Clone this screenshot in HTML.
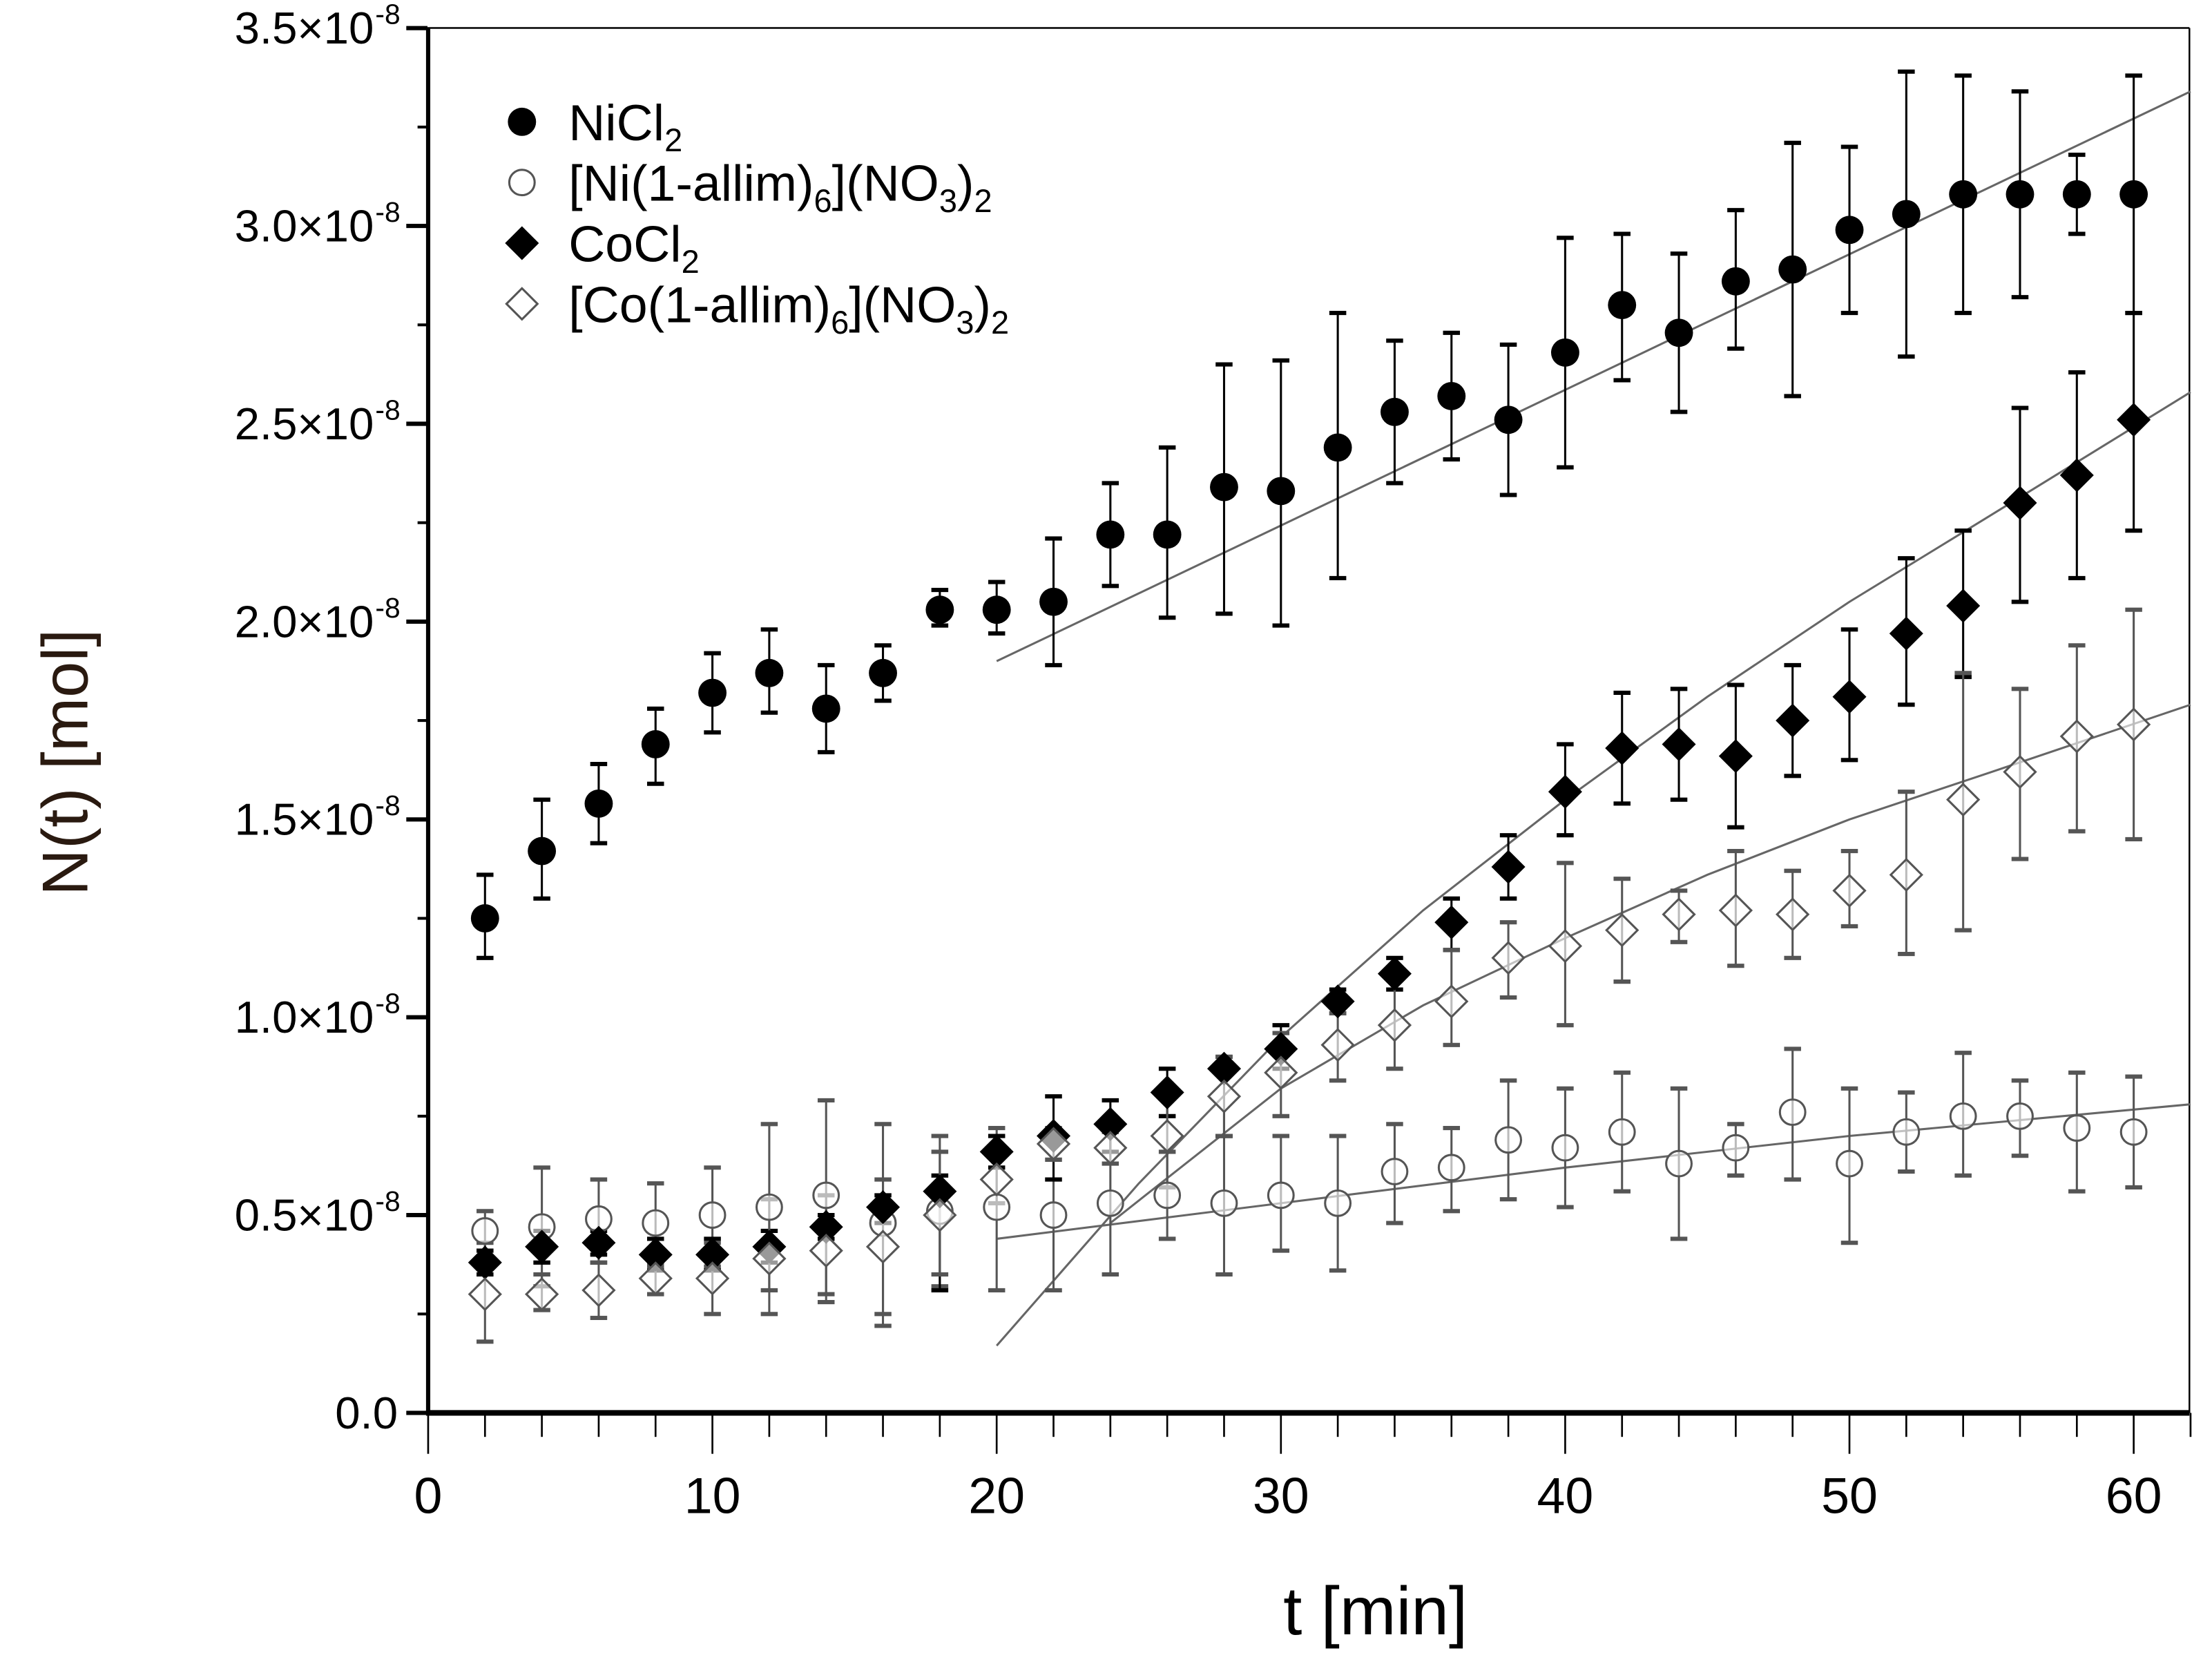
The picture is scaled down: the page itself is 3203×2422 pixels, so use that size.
<!DOCTYPE html>
<html><head><meta charset="utf-8"><style>
html,body{margin:0;padding:0;background:#fff;}
svg{display:block;font-family:"Liberation Sans",Arial,sans-serif;}
</style></head><body>
<svg id="chart" width="3203" height="2422" viewBox="0 0 1568 1185" xmlns="http://www.w3.org/2000/svg">
<g id="frame">
<line x1="303" y1="19.5" x2="1552" y2="19.5" stroke="#000" stroke-width="1.2"/>
<line x1="1552" y1="19.5" x2="1552" y2="1001" stroke="#000" stroke-width="1.2"/>
<line x1="303.5" y1="19.5" x2="303.5" y2="1002" stroke="#000" stroke-width="3"/>
<line x1="302" y1="1001" x2="1552" y2="1001" stroke="#000" stroke-width="4"/>
</g>
<g id="axes"></g>
<g id="fits"></g>
<g id="errs"></g>
<g id="marks"></g>
<g id="legend" font-size="36">
<circle cx="370" cy="86" r="10" fill="#000"/>
<text x="403" y="99">NiCl<tspan font-size="23" dy="8">2</tspan></text>
<circle cx="370" cy="129" r="9" fill="#fff" stroke="#555" stroke-width="1.5"/>
<text x="403" y="142">[Ni(1-allim)<tspan font-size="23" dy="8">6</tspan><tspan dy="-8">](NO</tspan><tspan font-size="23" dy="8">3</tspan><tspan dy="-8">)</tspan><tspan font-size="23" dy="8">2</tspan></text>
<path d="M370,160 l12,12 l-12,12 l-12,-12z" fill="#000"/>
<text x="403" y="185">CoCl<tspan font-size="23" dy="8">2</tspan></text>
<path d="M370,204 l11,11 l-11,11 l-11,-11z" fill="#fff" stroke="#555" stroke-width="1.5"/>
<text x="403" y="228">[Co(1-allim)<tspan font-size="23" dy="8">6</tspan><tspan dy="-8">](NO</tspan><tspan font-size="23" dy="8">3</tspan><tspan dy="-8">)</tspan><tspan font-size="23" dy="8">2</tspan></text>
</g>
<text transform="translate(62,540) rotate(-90)" text-anchor="middle" font-size="46" fill="#2a1a10">N(t) [mol]</text>
<text x="975" y="1158" text-anchor="middle" font-size="48">t [min]</text>
</svg>
<script>
const times=[2,4,6,8,10,12,14,16,18,20,22,24,26,28,30,32,34,36,38,40,42,44,46,48,50,52,54,56,58,60];
const niY=[1.25,1.42,1.54,1.69,1.82,1.87,1.78,1.87,2.03,2.03,2.05,2.22,2.22,2.34,2.33,2.44,2.53,2.57,2.51,2.68,2.80,2.73,2.86,2.89,2.99,3.03,3.08,3.08,3.08,3.08];
const niLo=[1.15,1.30,1.44,1.59,1.72,1.77,1.67,1.80,1.99,1.97,1.89,2.09,2.01,2.02,1.99,2.11,2.35,2.41,2.32,2.39,2.61,2.53,2.69,2.57,2.78,2.67,2.78,2.82,2.98,2.78];
const niHi=[1.36,1.55,1.64,1.78,1.92,1.98,1.89,1.94,2.08,2.10,2.21,2.35,2.44,2.65,2.66,2.78,2.71,2.73,2.70,2.97,2.98,2.93,3.04,3.21,3.20,3.39,3.38,3.34,3.18,3.38];
const nicY=[0.46,0.47,0.49,0.48,0.50,0.52,0.55,0.48,0.51,0.52,0.50,0.53,0.55,0.53,0.55,0.53,0.61,0.62,0.69,0.67,0.71,0.63,0.67,0.76,0.63,0.71,0.75,0.75,0.72,0.71];
const nicLo=[0.41,0.32,0.38,0.38,0.37,0.31,0.30,0.22,0.32,0.31,0.31,0.35,0.44,0.35,0.41,0.36,0.48,0.51,0.54,0.52,0.56,0.44,0.60,0.59,0.43,0.61,0.60,0.65,0.56,0.57];
const nicHi=[0.51,0.62,0.59,0.58,0.62,0.73,0.79,0.73,0.70,0.72,0.69,0.72,0.66,0.70,0.70,0.70,0.73,0.72,0.84,0.82,0.86,0.82,0.73,0.92,0.82,0.81,0.91,0.84,0.86,0.85];
const coY=[0.38,0.42,0.43,0.40,0.40,0.42,0.47,0.52,0.56,0.66,0.70,0.73,0.81,0.87,0.92,1.04,1.11,1.24,1.38,1.57,1.68,1.69,1.66,1.75,1.81,1.97,2.04,2.30,2.37,2.51];
const coLo=[0.35,0.38,0.40,0.36,0.36,0.38,0.44,0.48,0.31,0.62,0.59,0.66,0.75,0.70,0.87,1.01,1.07,1.17,1.30,1.46,1.54,1.55,1.48,1.61,1.65,1.79,1.86,2.05,2.11,2.23];
const coHi=[0.41,0.46,0.46,0.44,0.44,0.46,0.50,0.55,0.60,0.70,0.80,0.79,0.87,0.90,0.98,1.07,1.15,1.30,1.46,1.69,1.82,1.83,1.84,1.89,1.98,2.16,2.23,2.54,2.63,2.78];
const cocY=[0.30,0.30,0.31,0.34,0.34,0.39,0.41,0.42,0.50,0.59,0.68,0.67,0.70,0.80,0.86,0.93,0.98,1.04,1.15,1.18,1.22,1.26,1.27,1.26,1.32,1.36,1.55,1.62,1.71,1.74];
const cocLo=[0.18,0.26,0.24,0.30,0.25,0.25,0.28,0.25,0.35,0.53,0.64,0.63,0.57,0.70,0.75,0.84,0.87,0.93,1.05,0.98,1.09,1.19,1.13,1.15,1.23,1.16,1.22,1.40,1.47,1.45];
const cocHi=[0.43,0.35,0.38,0.37,0.43,0.54,0.55,0.59,0.66,0.65,0.72,0.71,0.82,0.90,0.96,1.01,1.10,1.17,1.24,1.39,1.35,1.32,1.42,1.37,1.42,1.57,1.87,1.83,1.94,2.03];
const fitNiT=[20,62], fitNiY=[1.90,3.34];
const fitNicT=[20,30,40,50,62], fitNicY=[0.44,0.53,0.62,0.70,0.78];
const fitCoT=[20,25,30,35,40,45,50,55,62], fitCoY=[0.17,0.58,0.95,1.27,1.55,1.81,2.05,2.27,2.58];
const fitCocT=[24,30,35,40,45,50,55,62], fitCocY=[0.48,0.82,1.03,1.20,1.36,1.50,1.62,1.79];
const xTicks=[0,10,20,30,40,50,60];
const yTicks=[0,0.5,1.0,1.5,2.0,2.5,3.0,3.5];
const yLabels=["0.0","0.5×10","1.0×10","1.5×10","2.0×10","2.5×10","3.0×10","3.5×10"];

const NS="http://www.w3.org/2000/svg";
const X=t=>303.5+t*20.15;
const Y=v=>1001-v*280.4;
function mk(tag,parent,attrs){const e=document.createElementNS(NS,tag);for(const k in attrs)e.setAttribute(k,attrs[k]);parent.appendChild(e);return e;}
const axes=document.getElementById('axes');
for(let t=0;t<=62;t+=2){const major=t%10===0;
 const l=mk('line',axes,{x1:X(t),x2:X(t),y1:1001,y2:major?1030:1018,stroke:'#000','stroke-width':1.3});
 
 }
xTicks.forEach(t=>{const tx=mk('text',axes,{x:X(t),y:1072,'text-anchor':'middle','font-size':36});tx.textContent=t;
 
 });
for(let v=0;v<=3.5001;v+=0.25){const major=Math.abs(v*2-Math.round(v*2))<1e-6;
 const l=mk('line',axes,{x1:major?288:296,x2:303,y1:Y(v),y2:Y(v),stroke:'#000','stroke-width':major?3:2});
 
 }
yTicks.forEach((v,i)=>{const tx=mk('text',axes,{x:v===0?282:265,y:Y(v)+11,'text-anchor':'end','font-size':32});tx.textContent=yLabels[i];
 
 
 if(v!==0){const s=mk('text',axes,{x:266,y:Y(v)-3,'font-size':20});s.textContent='-8';
 
 }});
const fits=document.getElementById('fits');
[[fitNiT,fitNiY,'fit-nicl2'],[fitNicT,fitNicY,'fit-ni-complex'],[fitCoT,fitCoY,'fit-cocl2'],[fitCocT,fitCocY,'fit-co-complex']].forEach(([ts,vs,n])=>{
 const p=mk('polyline',fits,{points:ts.map((t,i)=>X(t)+','+Y(vs[i])).join(' '),fill:'none',stroke:'#666','stroke-width':1.5});
 
 });
const errs=document.getElementById('errs'), marks=document.getElementById('marks');
const series=[[niY,niLo,niHi,'nicl2','#000','circle-f'],[nicY,nicLo,nicHi,'ni-complex','#555','circle-o'],[coY,coLo,coHi,'cocl2','#000','dia-f'],[cocY,cocLo,cocHi,'co-complex','#555','dia-o']];
series.forEach(([ys,lo,hi,n,col,shape])=>{
 times.forEach((t,i)=>{const x=X(t);
  const g=mk('g',errs,{stroke:col,'stroke-width':1.5});
  
  
  mk('line',g,{x1:x,x2:x,y1:Y(lo[i]),y2:Y(hi[i])});
  mk('line',g,{x1:x-6,x2:x+6,y1:Y(lo[i]),y2:Y(lo[i]),'stroke-width':3});
  mk('line',g,{x1:x-6,x2:x+6,y1:Y(hi[i]),y2:Y(hi[i]),'stroke-width':3});
  const y=Y(ys[i]);let m;
  if(shape==='circle-f')m=mk('circle',marks,{cx:x,cy:y,r:10,fill:'#000'});
  else if(shape==='circle-o')m=mk('circle',marks,{cx:x,cy:y,r:9,fill:'#fff','fill-opacity':0.6,stroke:'#555','stroke-width':1.5});
  else if(shape==='dia-f')m=mk('path',marks,{d:`M${x},${y-12} l12,12 l-12,12 l-12,-12z`,fill:'#000'});
  else m=mk('path',marks,{d:`M${x},${y-11} l11,11 l-11,11 l-11,-11z`,fill:'#fff','fill-opacity':0.6,stroke:'#555','stroke-width':1.5});
  
  
 });
});
</script>
</body></html>
